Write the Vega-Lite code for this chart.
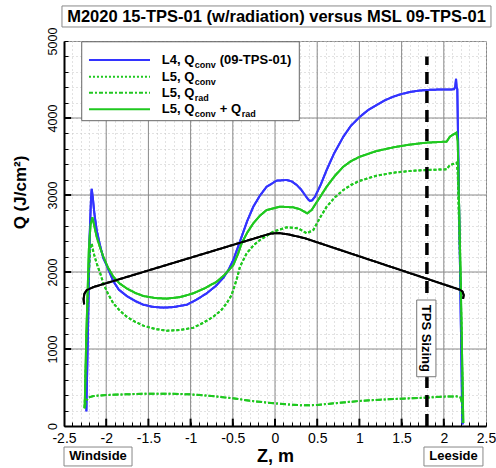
{
  "$schema": "https://vega.github.io/schema/vega-lite/v6.json",
  "width": 422,
  "height": 385,
  "autosize": {"type": "none"},
  "padding": {"left": 64, "top": 41, "right": 10, "bottom": 42},
  "background": "white",
  "config": {"view": {"stroke": "#888888", "strokeWidth": 1}, "font": "Liberation Sans"},
  "resolve": {"axis": {"x": "independent", "y": "independent"}},
  "datasets": {
    "curves": [
      {"s":"L4conv","x":-2.235,"y":190},{"s":"L4conv","x":-2.215,"y":1300},{"s":"L4conv","x":-2.195,"y":2500},{"s":"L4conv","x":-2.18,"y":2950},{"s":"L4conv","x":-2.172,"y":3080},{"s":"L4conv","x":-2.16,"y":2980},{"s":"L4conv","x":-2.14,"y":2760},{"s":"L4conv","x":-2.113,"y":2545},{"s":"L4conv","x":-2.07,"y":2330},{"s":"L4conv","x":-2.034,"y":2180},{"s":"L4conv","x":-2.0,"y":2100},{"s":"L4conv","x":-1.916,"y":1880},{"s":"L4conv","x":-1.85,"y":1770},{"s":"L4conv","x":-1.758,"y":1690},{"s":"L4conv","x":-1.65,"y":1620},{"s":"L4conv","x":-1.56,"y":1575},{"s":"L4conv","x":-1.45,"y":1548},{"s":"L4conv","x":-1.323,"y":1537},{"s":"L4conv","x":-1.2,"y":1545},{"s":"L4conv","x":-1.046,"y":1575},{"s":"L4conv","x":-0.93,"y":1640},{"s":"L4conv","x":-0.81,"y":1723},{"s":"L4conv","x":-0.7,"y":1820},{"s":"L4conv","x":-0.612,"y":1925},{"s":"L4conv","x":-0.55,"y":2030},{"s":"L4conv","x":-0.494,"y":2156},{"s":"L4conv","x":-0.44,"y":2320},{"s":"L4conv","x":-0.395,"y":2459},{"s":"L4conv","x":-0.33,"y":2660},{"s":"L4conv","x":-0.257,"y":2848},{"s":"L4conv","x":-0.18,"y":2990},{"s":"L4conv","x":-0.099,"y":3108},{"s":"L4conv","x":0.02,"y":3186},{"s":"L4conv","x":0.138,"y":3195},{"s":"L4conv","x":0.2,"y":3175},{"s":"L4conv","x":0.257,"y":3130},{"s":"L4conv","x":0.31,"y":3070},{"s":"L4conv","x":0.355,"y":3000},{"s":"L4conv","x":0.395,"y":2940},{"s":"L4conv","x":0.415,"y":2922},{"s":"L4conv","x":0.44,"y":2930},{"s":"L4conv","x":0.474,"y":2978},{"s":"L4conv","x":0.54,"y":3130},{"s":"L4conv","x":0.612,"y":3325},{"s":"L4conv","x":0.7,"y":3540},{"s":"L4conv","x":0.81,"y":3758},{"s":"L4conv","x":0.9,"y":3900},{"s":"L4conv","x":1.007,"y":4017},{"s":"L4conv","x":1.1,"y":4100},{"s":"L4conv","x":1.204,"y":4169},{"s":"L4conv","x":1.3,"y":4230},{"s":"L4conv","x":1.402,"y":4277},{"s":"L4conv","x":1.5,"y":4312},{"s":"L4conv","x":1.6,"y":4338},{"s":"L4conv","x":1.7,"y":4355},{"s":"L4conv","x":1.797,"y":4364},{"s":"L4conv","x":1.95,"y":4370},{"s":"L4conv","x":2.12,"y":4372},{"s":"L4conv","x":2.135,"y":4400},{"s":"L4conv","x":2.145,"y":4510},{"s":"L4conv","x":2.152,"y":4400},{"s":"L4conv","x":2.16,"y":4375},{"s":"L4conv","x":2.19,"y":2200},{"s":"L4conv","x":2.219,"y":80},{"s":"L4conv","x":2.225,"y":20},
      {"s":"L5tot","x":-2.255,"y":230},{"s":"L5tot","x":-2.235,"y":1200},{"s":"L5tot","x":-2.205,"y":2300},{"s":"L5tot","x":-2.185,"y":2620},{"s":"L5tot","x":-2.164,"y":2710},{"s":"L5tot","x":-2.145,"y":2620},{"s":"L5tot","x":-2.113,"y":2459},{"s":"L5tot","x":-2.07,"y":2310},{"s":"L5tot","x":-2.034,"y":2199},{"s":"L5tot","x":-1.98,"y":2060},{"s":"L5tot","x":-1.916,"y":1939},{"s":"L5tot","x":-1.84,"y":1850},{"s":"L5tot","x":-1.758,"y":1788},{"s":"L5tot","x":-1.66,"y":1730},{"s":"L5tot","x":-1.56,"y":1688},{"s":"L5tot","x":-1.42,"y":1662},{"s":"L5tot","x":-1.283,"y":1654},{"s":"L5tot","x":-1.12,"y":1675},{"s":"L5tot","x":-0.968,"y":1723},{"s":"L5tot","x":-0.83,"y":1790},{"s":"L5tot","x":-0.691,"y":1874},{"s":"L5tot","x":-0.6,"y":1960},{"s":"L5tot","x":-0.494,"y":2091},{"s":"L5tot","x":-0.44,"y":2230},{"s":"L5tot","x":-0.395,"y":2372},{"s":"L5tot","x":-0.33,"y":2510},{"s":"L5tot","x":-0.257,"y":2632},{"s":"L5tot","x":-0.18,"y":2730},{"s":"L5tot","x":-0.099,"y":2805},{"s":"L5tot","x":0.059,"y":2848},{"s":"L5tot","x":0.217,"y":2840},{"s":"L5tot","x":0.296,"y":2814},{"s":"L5tot","x":0.383,"y":2762},{"s":"L5tot","x":0.434,"y":2805},{"s":"L5tot","x":0.52,"y":2950},{"s":"L5tot","x":0.612,"y":3108},{"s":"L5tot","x":0.71,"y":3250},{"s":"L5tot","x":0.81,"y":3368},{"s":"L5tot","x":0.9,"y":3440},{"s":"L5tot","x":1.007,"y":3498},{"s":"L5tot","x":1.2,"y":3570},{"s":"L5tot","x":1.402,"y":3619},{"s":"L5tot","x":1.6,"y":3655},{"s":"L5tot","x":1.797,"y":3680},{"s":"L5tot","x":2.034,"y":3693},{"s":"L5tot","x":2.073,"y":3758},{"s":"L5tot","x":2.12,"y":3790},{"s":"L5tot","x":2.15,"y":3810},{"s":"L5tot","x":2.165,"y":3700},{"s":"L5tot","x":2.2,"y":1900},{"s":"L5tot","x":2.231,"y":40},
      {"s":"L5conv","x":-2.255,"y":240},{"s":"L5conv","x":-2.235,"y":1000},{"s":"L5conv","x":-2.21,"y":1900},{"s":"L5conv","x":-2.19,"y":2300},{"s":"L5conv","x":-2.172,"y":2372},{"s":"L5conv","x":-2.15,"y":2250},{"s":"L5conv","x":-2.113,"y":2113},{"s":"L5conv","x":-2.07,"y":1980},{"s":"L5conv","x":-2.034,"y":1853},{"s":"L5conv","x":-1.98,"y":1720},{"s":"L5conv","x":-1.916,"y":1593},{"s":"L5conv","x":-1.84,"y":1500},{"s":"L5conv","x":-1.758,"y":1420},{"s":"L5conv","x":-1.66,"y":1355},{"s":"L5conv","x":-1.56,"y":1303},{"s":"L5conv","x":-1.42,"y":1260},{"s":"L5conv","x":-1.283,"y":1238},{"s":"L5conv","x":-1.12,"y":1248},{"s":"L5conv","x":-0.968,"y":1277},{"s":"L5conv","x":-0.85,"y":1340},{"s":"L5conv","x":-0.73,"y":1420},{"s":"L5conv","x":-0.64,"y":1500},{"s":"L5conv","x":-0.573,"y":1593},{"s":"L5conv","x":-0.52,"y":1690},{"s":"L5conv","x":-0.494,"y":1766},{"s":"L5conv","x":-0.45,"y":1920},{"s":"L5conv","x":-0.415,"y":2069},{"s":"L5conv","x":-0.336,"y":2242},{"s":"L5conv","x":-0.25,"y":2350},{"s":"L5conv","x":-0.178,"y":2416},{"s":"L5conv","x":-0.02,"y":2524},{"s":"L5conv","x":0.138,"y":2580},{"s":"L5conv","x":0.276,"y":2567},{"s":"L5conv","x":0.375,"y":2502},{"s":"L5conv","x":0.454,"y":2545},{"s":"L5conv","x":0.53,"y":2700},{"s":"L5conv","x":0.612,"y":2848},{"s":"L5conv","x":0.71,"y":2970},{"s":"L5conv","x":0.81,"y":3065},{"s":"L5conv","x":0.9,"y":3130},{"s":"L5conv","x":1.007,"y":3186},{"s":"L5conv","x":1.2,"y":3250},{"s":"L5conv","x":1.402,"y":3290},{"s":"L5conv","x":1.6,"y":3312},{"s":"L5conv","x":1.797,"y":3325},{"s":"L5conv","x":2.034,"y":3333},{"s":"L5conv","x":2.073,"y":3390},{"s":"L5conv","x":2.133,"y":3410},{"s":"L5conv","x":2.153,"y":3420},{"s":"L5conv","x":2.165,"y":3300},{"s":"L5conv","x":2.2,"y":1800},{"s":"L5conv","x":2.228,"y":40},
      {"s":"L5rad","x":-2.255,"y":230},{"s":"L5rad","x":-2.24,"y":320},{"s":"L5rad","x":-2.21,"y":370},{"s":"L5rad","x":-2.15,"y":390},{"s":"L5rad","x":-2.0,"y":403},{"s":"L5rad","x":-1.75,"y":412},{"s":"L5rad","x":-1.5,"y":420},{"s":"L5rad","x":-1.25,"y":420},{"s":"L5rad","x":-1.0,"y":411},{"s":"L5rad","x":-0.75,"y":390},{"s":"L5rad","x":-0.5,"y":359},{"s":"L5rad","x":-0.25,"y":322},{"s":"L5rad","x":0,"y":294},{"s":"L5rad","x":0.2,"y":276},{"s":"L5rad","x":0.355,"y":268},{"s":"L5rad","x":0.5,"y":273},{"s":"L5rad","x":0.75,"y":300},{"s":"L5rad","x":1.0,"y":325},{"s":"L5rad","x":1.25,"y":342},{"s":"L5rad","x":1.5,"y":355},{"s":"L5rad","x":1.75,"y":366},{"s":"L5rad","x":2.0,"y":381},{"s":"L5rad","x":2.15,"y":385},{"s":"L5rad","x":2.2,"y":370},{"s":"L5rad","x":2.215,"y":300},{"s":"L5rad","x":2.225,"y":40},
      {"s":"TPS","x":-2.262,"y":1580},{"s":"TPS","x":-2.268,"y":1650},{"s":"TPS","x":-2.258,"y":1720},{"s":"TPS","x":-2.23,"y":1765},{"s":"TPS","x":-2.15,"y":1805},{"s":"TPS","x":-0.05,"y":2500},{"s":"TPS","x":0.05,"y":2505},{"s":"TPS","x":0.15,"y":2490},{"s":"TPS","x":0.35,"y":2440},{"s":"TPS","x":2.19,"y":1770},{"s":"TPS","x":2.222,"y":1745},{"s":"TPS","x":2.236,"y":1700},{"s":"TPS","x":2.228,"y":1650}
    ],
    "zmajor": [{"z": -2}, {"z": -1.5}, {"z": -1}, {"z": -0.5}, {"z": 0}, {"z": 0.5}, {"z": 1}, {"z": 1.5}, {"z": 2}],
    "qmajor": [{"q": 1000}, {"q": 2000}, {"q": 3000}, {"q": 4000}]
  },
  "layer": [
    {
      "data": {"name": "curves"},
      "mark": {"type": "line", "strokeWidth": 2},
      "encoding": {
        "x": {
          "field": "x", "type": "quantitative",
          "scale": {"domain": [-2.5, 2.5], "nice": false, "zero": false},
          "axis": {
            "orient": "bottom",
            "values": [-2.5,-2.4,-2.3,-2.2,-2.1,-2,-1.9,-1.8,-1.7,-1.6,-1.5,-1.4,-1.3,-1.2,-1.1,-1,-0.9,-0.8,-0.7,-0.6,-0.5,-0.4,-0.3,-0.2,-0.1,0,0.1,0.2,0.3,0.4,0.5,0.6,0.7,0.8,0.9,1,1.1,1.2,1.3,1.4,1.5,1.6,1.7,1.8,1.9,2,2.1,2.2,2.3,2.4,2.5],
            "tickCount": 200,
            "title": "Z, m", "titleFont": "Liberation Sans", "titleFontSize": 18, "titleFontWeight": "bold", "titleColor": "black", "titlePadding": 2,
            "labelFont": "Liberation Sans", "labelFontSize": 14, "labelColor": "black", "labelFlush": false, "labelOverlap": false, "labelPadding": 9,
            "labelExpr": "abs(datum.value*2-round(datum.value*2))<1e-6 ? '' + datum.value : ''",
            "grid": true, "gridColor": "#c4c4c4", "gridDash": [1, 3], "gridWidth": 1,
            "tickColor": "black", "tickSize": -4, "tickWidth": 1,
            "domainColor": "black", "domainWidth": 2
          }
        },
        "y": {
          "field": "y", "type": "quantitative",
          "scale": {"domain": [0, 5000], "nice": false, "zero": false},
          "axis": {
            "orient": "left",
            "values": [0,200,400,600,800,1000,1200,1400,1600,1800,2000,2200,2400,2600,2800,3000,3200,3400,3600,3800,4000,4200,4400,4600,4800,5000],
            "tickCount": 200,
            "title": "Q (J/cm²)", "titleFont": "Liberation Sans", "titleFontSize": 17, "titleFontWeight": "bold", "titleColor": "black",
            "titleAngle": -90, "titleAlign": "center", "titleBaseline": "middle", "titleX": -44, "titleY": 151,
            "labelFont": "Liberation Sans", "labelFontSize": 12.5, "labelColor": "black", "labelFlush": false, "labelOverlap": false,
            "labelAngle": -90, "labelAlign": "center", "labelBaseline": "bottom", "labelPadding": 9,
            "labelExpr": "datum.value % 1000 === 0 ? '' + datum.value : ''",
            "grid": true, "gridColor": "#c4c4c4", "gridDash": [1, 3], "gridWidth": 1,
            "tickColor": "black", "tickSize": -4, "tickWidth": 1,
            "domainColor": "black", "domainWidth": 2
          }
        },
        "color": {
          "field": "s", "type": "nominal", "legend": null,
          "scale": {"domain": ["L4conv", "L5conv", "L5rad", "L5tot", "TPS"], "range": ["#3333ff", "#1fc81f", "#1fc81f", "#1fc81f", "#000000"]}
        },
        "strokeDash": {
          "field": "s", "type": "nominal", "legend": null,
          "scale": {"domain": ["L4conv", "L5conv", "L5rad", "L5tot", "TPS"], "range": [[1, 0], [3, 2], [6, 2, 2, 2], [1, 0], [1, 0]]}
        },
        "order": {"value": null}
      }
    },
    {
      "data": {"name": "zmajor"},
      "mark": {"type": "rule", "color": "#8a8a8a", "strokeWidth": 1},
      "encoding": {"x": {"field": "z", "type": "quantitative", "axis": null}, "y": {"datum": 0, "axis": null}, "y2": {"datum": 5000}}
    },
    {
      "data": {"name": "qmajor"},
      "mark": {"type": "rule", "color": "#8a8a8a", "strokeWidth": 1},
      "encoding": {"y": {"field": "q", "type": "quantitative", "axis": null}, "x": {"datum": -2.5, "axis": null}, "x2": {"datum": 2.5}}
    },
    {
      "data": {"name": "zmajor"},
      "mark": {"type": "rule", "color": "black", "strokeWidth": 2},
      "encoding": {"x": {"field": "z", "type": "quantitative", "axis": null}, "y": {"datum": 0, "axis": null}, "y2": {"datum": 95}}
    },
    {
      "data": {"name": "qmajor"},
      "mark": {"type": "rule", "color": "black", "strokeWidth": 2},
      "encoding": {"y": {"field": "q", "type": "quantitative", "axis": null}, "x": {"datum": -2.5, "axis": null}, "x2": {"datum": -2.415}}
    },
    {
      "data": {"name": "curves"},
      "mark": {"type": "line", "strokeWidth": 2},
      "encoding": {
        "x": {"field": "x", "type": "quantitative", "axis": null},
        "y": {"field": "y", "type": "quantitative", "axis": null},
        "color": {"field": "s", "type": "nominal", "legend": null},
        "strokeDash": {"field": "s", "type": "nominal", "legend": null},
        "order": {"value": null}
      }
    },
    {
      "data": {"values": [{}]},
      "mark": {"type": "rule", "strokeWidth": 3.5, "strokeDash": [12, 7], "color": "black"},
      "encoding": {"x": {"datum": 1.8, "axis": null}, "y": {"datum": 0, "axis": null}, "y2": {"datum": 4800}}
    },
    {
      "data": {"values": [{}]},
      "mark": {"type": "rect", "fill": "white", "stroke": "#777777", "strokeWidth": 1},
      "encoding": {"x": {"datum": 1.679, "axis": null}, "x2": {"datum": 1.907}, "y": {"datum": 640, "axis": null}, "y2": {"datum": 1636}}
    },
    {
      "data": {"values": [{}]},
      "mark": {"type": "text", "text": "TPS Sizing", "angle": 90, "font": "Liberation Sans", "fontSize": 13, "fontWeight": "bold", "align": "center", "baseline": "middle", "color": "black"},
      "encoding": {"x": {"datum": 1.793, "axis": null}, "y": {"datum": 1138, "axis": null}}
    },
    {
      "data": {"values": [{}]},
      "mark": {"type": "rect", "fill": "white", "stroke": "#666666", "strokeWidth": 1},
      "encoding": {"x": {"datum": -2.29, "axis": null}, "x2": {"datum": 0.288}, "y": {"datum": 3965, "axis": null}, "y2": {"datum": 4990}}
    },
    {
      "data": {"values": [{}]},
      "mark": {"type": "rule", "strokeWidth": 2, "color": "#3333ff"},
      "encoding": {"x": {"datum": -2.204, "axis": null}, "x2": {"datum": -1.481}, "y": {"datum": 4753, "axis": null}}
    },
    {
      "data": {"values": [{}]},
      "mark": {"type": "rule", "strokeWidth": 2, "color": "#1fc81f", "strokeDash": [2, 2]},
      "encoding": {"x": {"datum": -2.204, "axis": null}, "x2": {"datum": -1.481}, "y": {"datum": 4536, "axis": null}}
    },
    {
      "data": {"values": [{}]},
      "mark": {"type": "rule", "strokeWidth": 2, "color": "#1fc81f", "strokeDash": [4, 2, 2, 2]},
      "encoding": {"x": {"datum": -2.204, "axis": null}, "x2": {"datum": -1.481}, "y": {"datum": 4329, "axis": null}}
    },
    {
      "data": {"values": [{}]},
      "mark": {"type": "rule", "strokeWidth": 2, "color": "#1fc81f"},
      "encoding": {"x": {"datum": -2.204, "axis": null}, "x2": {"datum": -1.481}, "y": {"datum": 4113, "axis": null}}
    },
    {
      "data": {"values": [{}]},
      "mark": {"type": "text", "text": "L4, Q", "font": "Liberation Sans", "fontSize": 13, "fontWeight": "bold", "align": "left", "baseline": "middle", "color": "black"},
      "encoding": {"x": {"datum": -1.342, "axis": null}, "y": {"datum": 4753, "axis": null}}
    },
    {
      "data": {"values": [{}]},
      "mark": {"type": "text", "text": "conv", "font": "Liberation Sans", "fontSize": 9, "fontWeight": "bold", "align": "left", "baseline": "middle", "color": "black", "dx": 33, "dy": 5},
      "encoding": {"x": {"datum": -1.342, "axis": null}, "y": {"datum": 4753, "axis": null}}
    },
    {
      "data": {"values": [{}]},
      "mark": {"type": "text", "text": "(09-TPS-01)", "font": "Liberation Sans", "fontSize": 13, "fontWeight": "bold", "align": "left", "baseline": "middle", "color": "black", "dx": 58},
      "encoding": {"x": {"datum": -1.342, "axis": null}, "y": {"datum": 4753, "axis": null}}
    },
    {
      "data": {"values": [{}]},
      "mark": {"type": "text", "text": "L5, Q", "font": "Liberation Sans", "fontSize": 13, "fontWeight": "bold", "align": "left", "baseline": "middle", "color": "black"},
      "encoding": {"x": {"datum": -1.342, "axis": null}, "y": {"datum": 4536, "axis": null}}
    },
    {
      "data": {"values": [{}]},
      "mark": {"type": "text", "text": "conv", "font": "Liberation Sans", "fontSize": 9, "fontWeight": "bold", "align": "left", "baseline": "middle", "color": "black", "dx": 33, "dy": 5},
      "encoding": {"x": {"datum": -1.342, "axis": null}, "y": {"datum": 4536, "axis": null}}
    },
    {
      "data": {"values": [{}]},
      "mark": {"type": "text", "text": "L5, Q", "font": "Liberation Sans", "fontSize": 13, "fontWeight": "bold", "align": "left", "baseline": "middle", "color": "black"},
      "encoding": {"x": {"datum": -1.342, "axis": null}, "y": {"datum": 4329, "axis": null}}
    },
    {
      "data": {"values": [{}]},
      "mark": {"type": "text", "text": "rad", "font": "Liberation Sans", "fontSize": 9, "fontWeight": "bold", "align": "left", "baseline": "middle", "color": "black", "dx": 33, "dy": 5},
      "encoding": {"x": {"datum": -1.342, "axis": null}, "y": {"datum": 4329, "axis": null}}
    },
    {
      "data": {"values": [{}]},
      "mark": {"type": "text", "text": "L5, Q", "font": "Liberation Sans", "fontSize": 13, "fontWeight": "bold", "align": "left", "baseline": "middle", "color": "black"},
      "encoding": {"x": {"datum": -1.342, "axis": null}, "y": {"datum": 4113, "axis": null}}
    },
    {
      "data": {"values": [{}]},
      "mark": {"type": "text", "text": "conv", "font": "Liberation Sans", "fontSize": 9, "fontWeight": "bold", "align": "left", "baseline": "middle", "color": "black", "dx": 33, "dy": 5},
      "encoding": {"x": {"datum": -1.342, "axis": null}, "y": {"datum": 4113, "axis": null}}
    },
    {
      "data": {"values": [{}]},
      "mark": {"type": "text", "text": "+ Q", "font": "Liberation Sans", "fontSize": 13, "fontWeight": "bold", "align": "left", "baseline": "middle", "color": "black", "dx": 58},
      "encoding": {"x": {"datum": -1.342, "axis": null}, "y": {"datum": 4113, "axis": null}}
    },
    {
      "data": {"values": [{}]},
      "mark": {"type": "text", "text": "rad", "font": "Liberation Sans", "fontSize": 9, "fontWeight": "bold", "align": "left", "baseline": "middle", "color": "black", "dx": 80, "dy": 5},
      "encoding": {"x": {"datum": -1.342, "axis": null}, "y": {"datum": 4113, "axis": null}}
    },
    {
      "data": {"values": [{}]},
      "mark": {"type": "rect", "fill": "white", "stroke": "#888888", "strokeWidth": 1},
      "encoding": {"x": {"datum": -2.524, "axis": null}, "x2": {"datum": 2.559}, "y": {"datum": 5182, "axis": null}, "y2": {"datum": 5455}}
    },
    {
      "data": {"values": [{}]},
      "mark": {"type": "text", "text": "M2020 15-TPS-01 (w/radiation) versus MSL 09-TPS-01", "font": "Liberation Sans", "fontSize": 16.5, "fontWeight": "bold", "align": "center", "baseline": "middle", "color": "black"},
      "encoding": {"x": {"datum": 0.018, "axis": null}, "y": {"datum": 5312, "axis": null}}
    },
    {
      "data": {"values": [{}]},
      "mark": {"type": "rect", "fill": "white", "stroke": "#888888", "strokeWidth": 1},
      "encoding": {"x": {"datum": -2.5, "axis": null}, "x2": {"datum": -1.694}, "y": {"datum": -519, "axis": null}, "y2": {"datum": -273}}
    },
    {
      "data": {"values": [{}]},
      "mark": {"type": "text", "text": "Windside", "font": "Liberation Sans", "fontSize": 13, "fontWeight": "bold", "align": "center", "baseline": "middle", "color": "black"},
      "encoding": {"x": {"datum": -2.097, "axis": null}, "y": {"datum": -396, "axis": null}}
    },
    {
      "data": {"values": [{}]},
      "mark": {"type": "rect", "fill": "white", "stroke": "#888888", "strokeWidth": 1},
      "encoding": {"x": {"datum": 1.765, "axis": null}, "x2": {"datum": 2.464}, "y": {"datum": -519, "axis": null}, "y2": {"datum": -273}}
    },
    {
      "data": {"values": [{}]},
      "mark": {"type": "text", "text": "Leeside", "font": "Liberation Sans", "fontSize": 13, "fontWeight": "bold", "align": "center", "baseline": "middle", "color": "black"},
      "encoding": {"x": {"datum": 2.115, "axis": null}, "y": {"datum": -396, "axis": null}}
    }
  ]
}
